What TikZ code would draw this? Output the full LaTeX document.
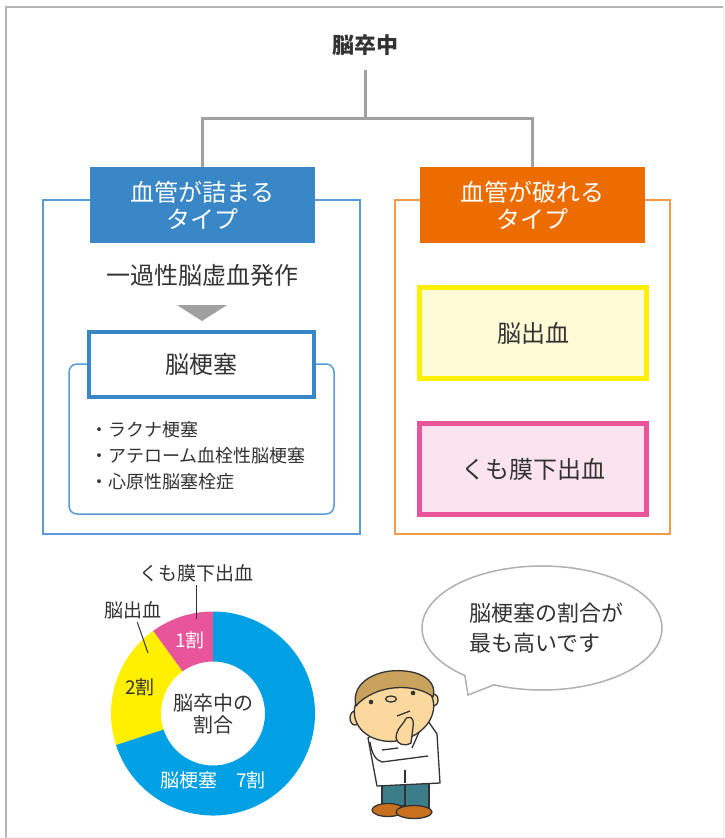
\documentclass[tikz,border=0pt]{standalone}
\usepackage{fontspec}
\setmainfont{Noto Sans CJK JP}
\usetikzlibrary{positioning}

\definecolor{ink}{HTML}{333333}
\definecolor{lineg}{HTML}{A0A0A0}
\definecolor{framegray}{HTML}{B4B4B4}
\definecolor{bubblegray}{HTML}{B0B0B0}
\definecolor{clogblue}{HTML}{3A87C8}
\definecolor{clogline}{HTML}{5B9BD5}
\definecolor{burstorange}{HTML}{ED6C00}
\definecolor{burstline}{HTML}{F39A4C}
\definecolor{bleedline}{HTML}{FFF000}
\definecolor{bleedfill}{HTML}{FFFBD6}
\definecolor{sahline}{HTML}{E8559A}
\definecolor{sahfill}{HTML}{FBE4EF}
\definecolor{pieblue}{HTML}{00A0E4}
\definecolor{skin}{HTML}{FAD89E}
\definecolor{hair}{HTML}{C9A35E}
\definecolor{pants}{HTML}{3C7D8A}
\definecolor{shoe}{HTML}{C8701E}

\newcommand{\fsz}[2]{\fontsize{#1}{#2}\selectfont}

\begin{document}
\begin{tikzpicture}[x=1pt, y=-1pt,
    treeline/.style = {draw=lineg, line width=3pt},
    head/.style = {inner sep=0, minimum width=225pt, minimum height=76pt, align=center, text=white, font=\fsz{24}{27}},
    sick/.style = {draw, inner sep=0, minimum width=227pt, minimum height=91pt, line width=5pt, text=ink, font=\fsz{24}{28}},
    typeframe/.style = {line width=1.5pt},
    pienote/.style = {text=ink, font=\fsz{19}{22}}]
    \useasboundingbox (0,0) rectangle (724,838);
    \fill[white] (0,0) rectangle (724,838);
    \draw[framegray, line width=2pt] (6,838) -- (6,7) -- (723,7);
    \draw[black!8, line width=1pt] (723,7) -- (723,837) -- (6,837);

    % top
    \node[font=\bfseries\fsz{22}{26}, text=ink, minimum height=50pt, inner sep=0] (stroke) at (365,45) {脳卒中};
    \coordinate (fork) at (365,118);

    % clogged / burst
    \draw[typeframe, clogline] (43,200) rectangle (360,534);
    \draw[typeframe, burstline] (395,200) rectangle (670,534);
    \node[head, fill=clogblue] (clog) at (202.5,205) {血管が詰まる\\タイプ};
    \node[head, fill=burstorange] (burst) at (532,205) {血管が破れる\\タイプ};
    \draw[treeline] (stroke) -- (fork);
    \draw[treeline] (fork) -| (clog);
    \draw[treeline] (fork) -| (burst);

    % left column
    \node[text=ink, font=\fsz{24}{28}] (tia) at (202,275) {一過性脳虚血発作};
    \fill[lineg] (177,305) -- (227,305) -- (202,321) -- cycle;
    \draw[typeframe, clogline, rounded corners=8pt] (69,364) rectangle (334,514);
    \node[draw=clogblue, line width=4pt, fill=white, inner sep=0, minimum width=225pt, minimum height=65pt, text=ink, font=\fsz{24}{28}] (infarct) at (201.5,364.5) {脳梗塞};
    \node[text=ink, font=\fsz{18}{26}, align=left, anchor=west, inner sep=0] (kinds) at (90,456) {・ラクナ梗塞\\・アテローム血栓性脳梗塞\\・心原性脳塞栓症};

    % right column
    \node[sick, draw=bleedline, fill=bleedfill] (bleed) at (533,333) {脳出血};
    \node[sick, draw=sahline, fill=sahfill, below=40pt of bleed] (sah) {くも膜下出血};

    % pie
    \coordinate (pie) at (213,713.5);
    \begin{scope}[shift={(pie)}]
        \foreach \a/\b/\c in {-90/-126/sahline, -126/-198/bleedline, -198/-450/pieblue}
            \fill[\c] (\a:102) arc[start angle=\a, end angle=\b, radius=102] -- (\b:52) arc[start angle=\b, end angle=\a, radius=52] -- cycle;
    \end{scope}
    \node[pienote, text=white] (one) at (190,640) {1割};
    \node[pienote] (two) at (140,687) {2割};
    \node[pienote, text=white] (seven) at (213,780) {脳梗塞　7割};
    \node[pienote, align=center, font=\fsz{20}{22}] (share) at (pie) {脳卒中の\\割合};
    \node[pienote] (sahname) at (196.5,573) {くも膜下出血};
    \node[pienote] (bleedname) at (133,610) {脳出血};
    \coordinate (sahtip) at (196.5,619);
    \coordinate (bleedtip) at (148,653);
    \draw[ink, line width=1pt] (sahname) -- (sahtip);
    \draw[ink, line width=1pt] (bleedname) -- (bleedtip);

    % bubble
    \draw[bubblegray, fill=white, line width=1.5pt] ([shift={(542,628)}]130:120 and 62) arc[start angle=130, end angle=473.6, x radius=120, y radius=62] -- (468,695) -- cycle;
    \node[text=ink, align=left, anchor=west, inner sep=0, font=\fsz{22}{30}] (talk) at (469,628) {脳梗塞の割合が\\最も高いです};

    % doctor
    \begin{scope}[draw=ink, line width=1.3pt, line join=round]
        \filldraw[fill=pants] (382,782) rectangle (405,806);
        \filldraw[fill=pants] (405,782) rectangle (429,808);
        \filldraw[fill=shoe] (388,810) ellipse[x radius=16, y radius=6.5];
        \filldraw[fill=shoe] (414,812) ellipse[x radius=18, y radius=6.5];
        \filldraw[fill=white] (368,738) -- (382,727) -- (428,721) -- (437,734) -- (440,783) -- (377,786) -- cycle;
        \draw (370,742) .. controls (372,755) and (376,760) .. (382,762) -- (428,756);
        \draw (382,750) -- (398,748);
        \draw (420,730) -- (412,748);
        \draw (405,783) -- (405,770);
        \filldraw[fill=skin] (355,718) ellipse[x radius=5, y radius=7];
        \filldraw[fill=skin] (434,700) ellipse[x radius=4, y radius=6];
        \filldraw[fill=skin, rotate around={12:(394,709)}] (394,709) ellipse[x radius=40, y radius=32];
        \filldraw[fill=hair] (356,706) .. controls (350,682) and (378,668) .. (405,671) .. controls (426,673) and (437,684) .. (433,697) .. controls (420,686) and (392,684) .. (372,694) .. controls (364,698) and (359,702) .. (356,706) -- cycle;
        \fill[ink] (371,702) circle[radius=2.3];
        \fill[ink] (413,693) circle[radius=2.3];
        \draw (391,699) ellipse[x radius=5.5, y radius=3];
        \draw (397,716) -- (410,711);
        \filldraw[fill=skin] (404,722) .. controls (407,714) and (415,716) .. (413,727) -- (411,743) .. controls (404,747) and (397,744) .. (396,738) .. controls (396,731) and (400,727) .. (404,722) -- cycle;
    \end{scope}
\end{tikzpicture}
\end{document}
